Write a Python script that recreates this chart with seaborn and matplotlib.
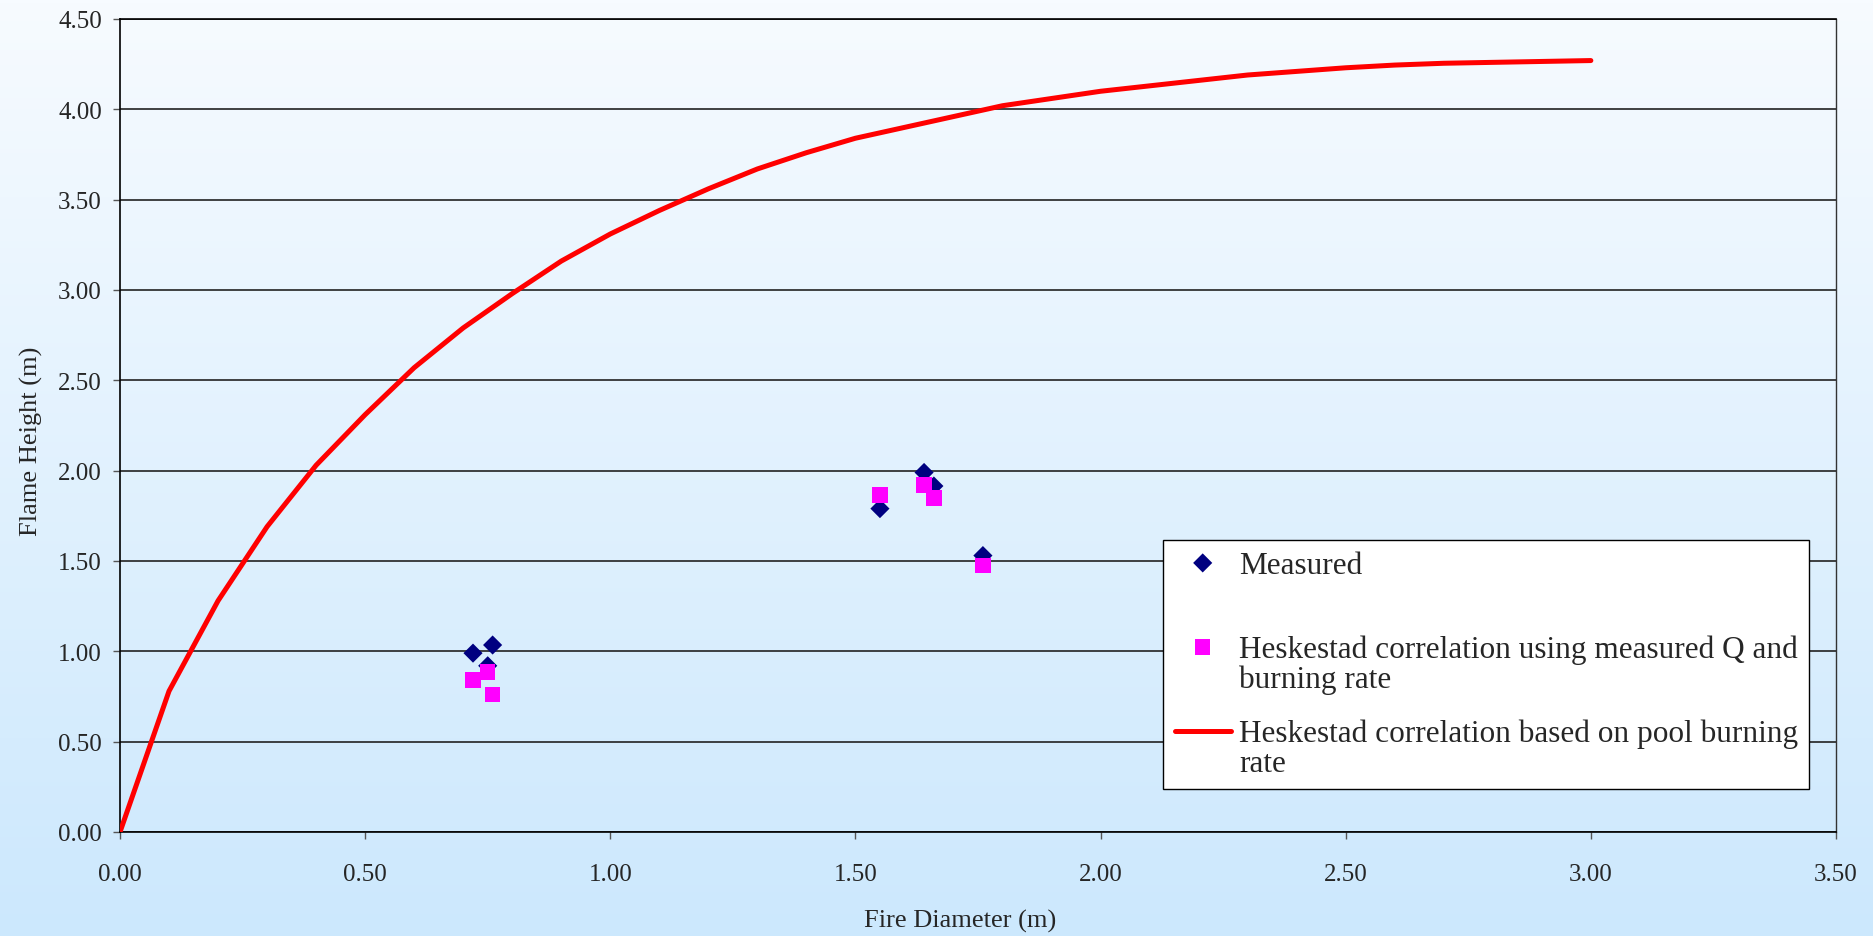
import numpy as np
import pandas as pd
import matplotlib
matplotlib.use("Agg")
import matplotlib.pyplot as plt
import seaborn as sns
from matplotlib.legend_handler import HandlerLine2D, HandlerPathCollection
from matplotlib.colors import LinearSegmentedColormap

# ---------------- data ----------------
fire_diameter = [0.72, 0.75, 0.76, 1.55, 1.64, 1.66, 1.76]
height_measured = [0.99, 0.92, 1.035, 1.79, 1.99, 1.915, 1.53]
height_heskestad_q = [0.84, 0.885, 0.76, 1.865, 1.92, 1.85, 1.475]

pool_diameter = [0.0, 0.1, 0.2, 0.3, 0.4, 0.5, 0.6, 0.7, 0.8, 0.9, 1.0,
                 1.1, 1.2, 1.3, 1.4, 1.5, 1.6, 1.7, 1.8, 1.9, 2.0,
                 2.1, 2.2, 2.3, 2.4, 2.5, 2.6, 2.7, 2.8, 2.9, 3.0]
pool_height = [0.0, 0.78, 1.28, 1.69, 2.03, 2.31, 2.57, 2.79, 2.98, 3.16, 3.31,
               3.44, 3.56, 3.67, 3.76, 3.84, 3.90, 3.96, 4.02, 4.06, 4.10,
               4.13, 4.16, 4.19, 4.21, 4.23, 4.245, 4.255, 4.26, 4.265, 4.27]

label_measured = "Measured"
label_q = "Heskestad correlation using measured Q and\nburning rate"
label_pool = "Heskestad correlation based on pool burning\nrate"

x_ticks = [0.0, 0.5, 1.0, 1.5, 2.0, 2.5, 3.0, 3.5]
y_ticks = [0.0, 0.5, 1.0, 1.5, 2.0, 2.5, 3.0, 3.5, 4.0, 4.5]

# ---------------- style ----------------
sns.set_style("white")
plt.rcParams['font.family'] = ['Liberation Serif', 'DejaVu Serif']

W, H, DPI = 1874, 937, 100
fig = plt.figure(figsize=(W / DPI, H / DPI), dpi=DPI)

# background gradient over whole figure
bg = fig.add_axes([0, 0, 1, 1], zorder=-10)
cmap = LinearSegmentedColormap.from_list("bg", ["#F7FBFF", "#CCE8FD"])
bg.imshow(np.linspace(0, 1, 256).reshape(-1, 1), aspect="auto", cmap=cmap,
          extent=[0, 1, 0, 1])
bg.set_axis_off()

left, right = 120 / W, 1836 / W
bottom, top = (H - 833) / H, (H - 20) / H
ax = fig.add_axes([left, bottom, right - left, top - bottom])
ax.set_facecolor("none")

df_pts = pd.DataFrame({"d": fire_diameter, "m": height_measured, "q": height_heskestad_q})
df_line = pd.DataFrame({"d": pool_diameter, "h": pool_height})

sns.lineplot(data=df_line, x="d", y="h", ax=ax, color="#FF0000", linewidth=3.6,
             label=label_pool, zorder=3, sort=False)
sns.scatterplot(data=df_pts, x="d", y="m", ax=ax, marker="D", s=95, color="#000080",
                edgecolor="none", label=label_measured, zorder=4)
sns.scatterplot(data=df_pts, x="d", y="q", ax=ax, marker="s", s=125, color="#FF00FF",
                edgecolor="none", label=label_q, zorder=5)

ax.set_xlim(0, 3.5)
ax.set_ylim(0, 4.5)
ax.set_xticks(x_ticks)
ax.set_yticks(y_ticks)
ax.set_xticklabels([f"{v:.2f}" for v in x_ticks])
ax.set_yticklabels([f"{v:.2f}" for v in y_ticks])
ax.tick_params(axis="both", labelsize=18, direction="out", length=5, width=1,
               color="#555555", left=True, bottom=True)
ax.tick_params(axis="x", pad=17)
ax.tick_params(axis="y", pad=8)

ax.yaxis.grid(True, color="#222222", linewidth=1.2)
ax.xaxis.grid(False)
for s in ["left", "bottom", "top"]:
    ax.spines[s].set_color("black")
    ax.spines[s].set_linewidth(1.2)
ax.spines["right"].set_color("#333333")
ax.spines["right"].set_linewidth(1.0)

ax.set_xlabel("Fire Diameter (m)", fontsize=19)
ax.set_ylabel("Flame Height (m)", fontsize=19)
ax.xaxis.set_label_coords(0.4895, -0.095)
ax.yaxis.set_label_coords(-0.045, 0.482)

# legend: handles aligned with the first text line
SHIFT = 0.55


class UpLine(HandlerLine2D):
    def create_artists(self, legend, orig_handle, xdescent, ydescent, width, height,
                       fontsize, trans):
        arts = super().create_artists(legend, orig_handle, xdescent, ydescent, width,
                                      height, fontsize, trans)
        for a in arts:
            a.set_ydata(np.asarray(a.get_ydata()) + SHIFT * fontsize)
        return arts


class UpPC(HandlerPathCollection):
    def get_ydata(self, legend, xdescent, ydescent, width, height, fontsize):
        return super().get_ydata(legend, xdescent, ydescent, width, height,
                                 fontsize) + SHIFT * fontsize


handles, labels = ax.get_legend_handles_labels()
order = [labels.index(label_measured), labels.index(label_q), labels.index(label_pool)]
handles = [handles[i] for i in order]
labels = [labels[i] for i in order]
labels[0] = labels[0] + "\n "
hmap = {handles[0]: UpPC(), handles[1]: UpPC(), handles[2]: UpLine()}

leg = ax.legend(handles, labels, handler_map=hmap, loc="lower left",
                bbox_to_anchor=(0.608, 0.053), borderaxespad=0, fontsize=22.5,
                frameon=True, fancybox=False, framealpha=1, edgecolor="black",
                handlelength=1.8, handletextpad=0.26, labelspacing=0.8,
                borderpad=0.36, scatterpoints=1, scatteryoffsets=[0.5])
for t in leg.get_texts():
    t.set_linespacing(1.02)
leg.get_frame().set_linewidth(1.0)
leg.get_frame().set_facecolor("white")

fig.savefig("out.png", dpi=DPI)
